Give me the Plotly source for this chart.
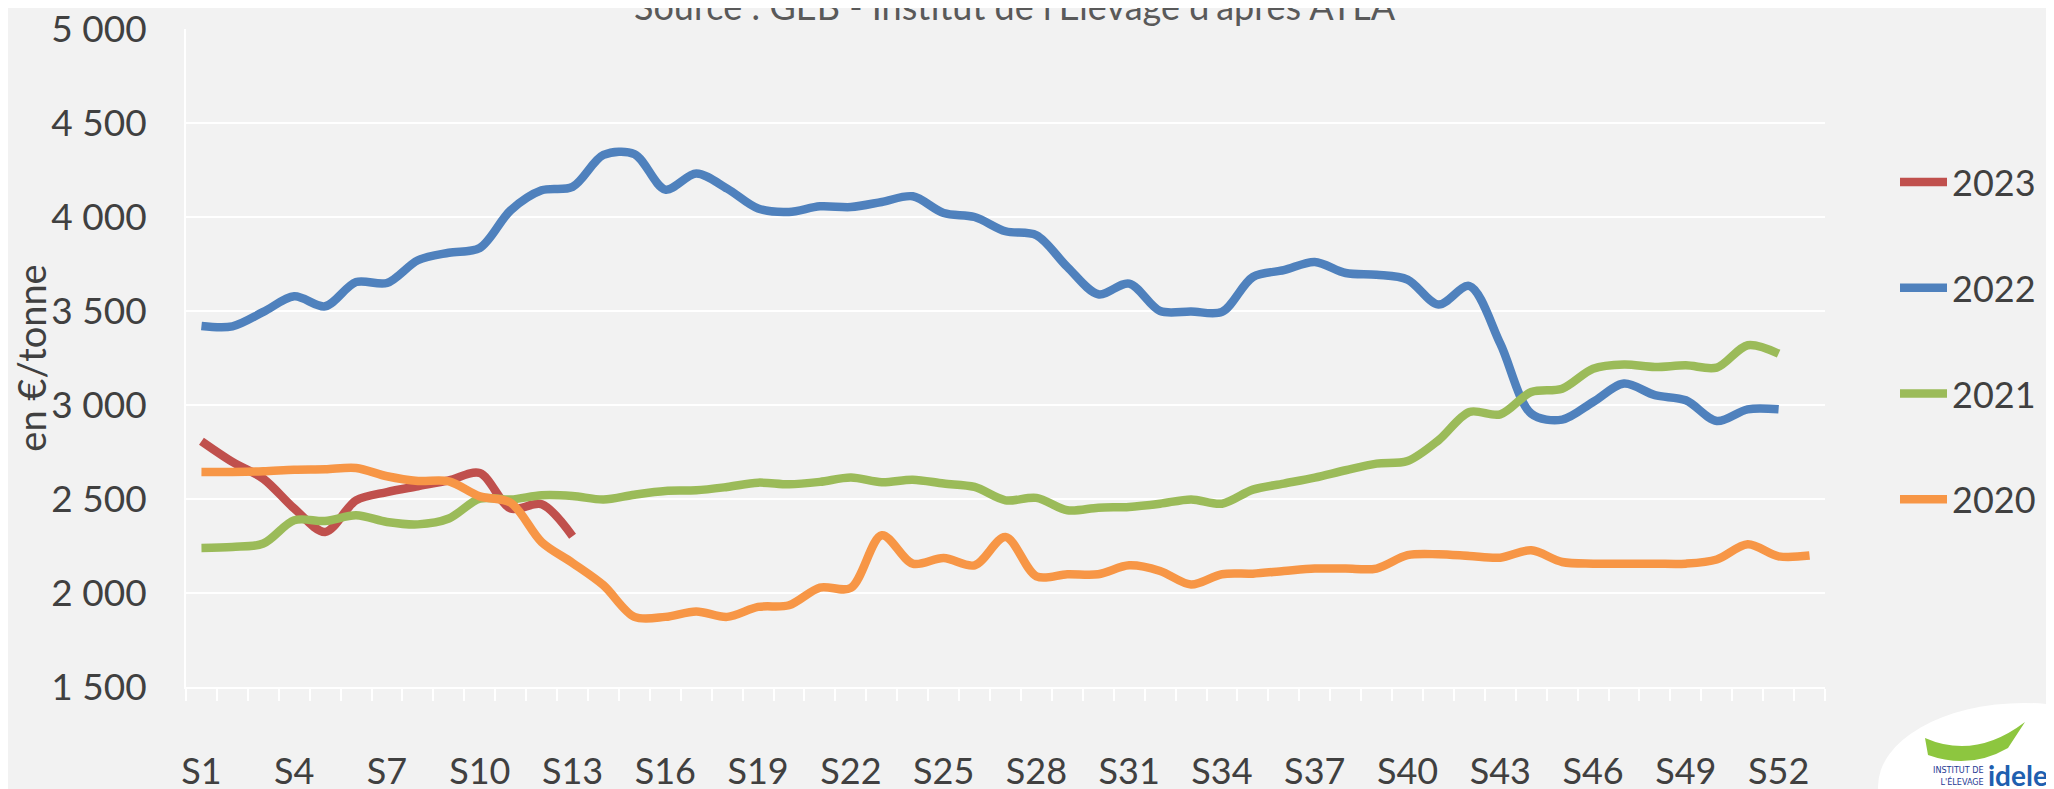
import plotly.graph_objects as go

# ---------------- data ----------------
weeks = list(range(1, 54))
week_labels = [f"S{w}" for w in weeks]
label_weeks = weeks[::3]            # S1, S4, ..., S52
label_texts = [f"S{w}" for w in label_weeks]

series_names = ["2023", "2022", "2021", "2020"]

p2023 = [2807, 2697, 2608, 2449, 2325, 2493, 2537, 2568, 2599, 2638, 2449, 2472, 2302]

p2022 = [3420, 3418, 3495, 3578, 3525, 3654, 3649, 3770, 3810, 3835,
         4036, 4142, 4160, 4330, 4335, 4146, 4231, 4151, 4045, 4027,
         4057, 4053, 4080, 4110, 4021, 4000, 3924, 3903, 3734, 3589,
         3646, 3500, 3498, 3495, 3681, 3717, 3761, 3702, 3693, 3667,
         3534, 3633, 3326, 2954, 2922, 3016, 3114, 3052, 3025, 2915,
         2977, 2977]

p2021 = [2240, 2245, 2263, 2387, 2383, 2413, 2378, 2365, 2396, 2502,
         2497, 2520, 2516, 2497, 2523, 2543, 2546, 2564, 2587, 2578,
         2591, 2614, 2589, 2603, 2582, 2564, 2493, 2506, 2440, 2454,
         2458, 2475, 2498, 2475, 2550, 2582, 2614, 2653, 2688, 2702,
         2812, 2963, 2950, 3069, 3087, 3193, 3215, 3202, 3211, 3199,
         3318, 3273]

p2020 = [2644, 2644, 2647, 2656, 2658, 2665, 2621, 2596, 2594, 2514,
         2480, 2271, 2160, 2041, 1873, 1873, 1902, 1873, 1926, 1935,
         2029, 2027, 2307, 2156, 2186, 2147, 2298, 2089, 2100, 2100,
         2147, 2117, 2045, 2100, 2103, 2117, 2130, 2130, 2130, 2201,
         2206, 2197, 2188, 2227, 2165, 2156, 2156, 2156, 2156, 2178,
         2259, 2195, 2199]

y_ticks = [1500, 2000, 2500, 3000, 3500, 4000, 4500, 5000]

colors = {"2023": "#C0504D", "2022": "#4F81BD", "2021": "#9BBB59", "2020": "#F79646"}
values = {"2023": p2023, "2022": p2022, "2021": p2021, "2020": p2020}

# ---------------- layout geometry (screen pixels; page body has an 8px margin) ----------------
W, H = 2054, 789
OFF = 8
SL, SR, ST, SB = 186, 1825, 29, 687          # plot area on screen
ML, MT = SL - OFF, ST - OFF
MR, MB = W - (SR - OFF), H - (SB - OFF)
PW, PH = SR - SL, SB - ST
BG = "#F2F2F2"
FONT = "Century Gothic, Lato, sans-serif"
TXT = "#404040"


def px_x(sx):
    return (sx - SL) / PW


def px_y(sy):
    return (SB - sy) / PH


fig = go.Figure()
for name in series_names:
    vals = values[name]
    fig.add_trace(go.Scatter(
        x=weeks[:len(vals)], y=vals, name=name, legendgroup=name,
        mode="lines", line=dict(color=colors[name], width=8.5, shape="spline", smoothing=0.9),
    ))

fig.update_layout(
    width=W, height=H,
    margin=dict(l=ML, r=MR, t=MT, b=MB, autoexpand=False),
    paper_bgcolor=BG, plot_bgcolor=BG,
    separators=", ",
    font=dict(family=FONT, color=TXT, size=36),
    showlegend=True,
    legend=dict(
        x=px_x(1895), y=px_y(152), xanchor="left", yanchor="top",
        font=dict(family=FONT, size=36, color=TXT),
        bgcolor="rgba(0,0,0,0)", tracegroupgap=56, itemwidth=47,
    ),
    xaxis=dict(
        range=[0.5, 53.5], automargin=False,
        tickmode="array", tickvals=label_weeks, ticktext=label_texts,
        ticks="outside", ticklen=52, tickcolor="rgba(0,0,0,0)",
        ticklabeloverflow="allow",
        tickfont=dict(family=FONT, size=36, color=TXT),
        showgrid=False, zeroline=False,
        showline=True, linecolor="#FFFFFF", linewidth=2,
        minor=dict(tick0=0.5, dtick=1, ticks="outside", ticklen=12,
                   tickcolor="#FFFFFF", tickwidth=2, showgrid=False),
    ),
    yaxis=dict(
        range=[1500, 5000], automargin=False,
        tickmode="array", tickvals=y_ticks, tickformat=",d",
        ticks="outside", ticklen=30, tickcolor="rgba(0,0,0,0)",
        ticklabeloverflow="allow",
        tickfont=dict(family=FONT, size=37, color=TXT),
        showgrid=True, gridcolor="#FFFFFF", gridwidth=2,
        zeroline=False,
        showline=True, linecolor="#FFFFFF", linewidth=2,
        title=dict(text="en €/tonne", font=dict(family=FONT, size=38, color=TXT), standoff=2),
    ),
)

# title (partly cut off at the top, as in the reference)
fig.add_annotation(
    text="Source : GEB - Institut de l'Elevage d'après ATLA",
    xref="paper", yref="paper", x=px_x(1015), y=px_y(30),
    xanchor="center", yanchor="bottom", showarrow=False,
    font=dict(family=FONT, size=36, color="#595959"),
)

# logo (decorative) at bottom-right
fig.add_shape(type="circle", xref="paper", yref="paper",
              x0=px_x(1878), x1=px_x(2170), y0=px_y(870), y1=px_y(703),
              fillcolor="#FFFFFF", line=dict(width=0), layer="below")
fig.add_shape(type="path", xref="paper", yref="paper",
              path=f"M {px_x(1925)} {px_y(738)} Q {px_x(1975)} {px_y(760)} {px_x(2025)} {px_y(722)} "
                   f"L {px_x(2008)} {px_y(748)} Q {px_x(1970)} {px_y(770)} {px_x(1928)} {px_y(755)} Z",
              fillcolor="#8DC63F", line=dict(width=0))
fig.add_annotation(text="INSTITUT DE<br>L'ÉLEVAGE", xref="paper", yref="paper",
                   x=px_x(1958), y=px_y(776), xanchor="center", yanchor="middle",
                   showarrow=False, align="right",
                   font=dict(family="DejaVu Sans Condensed, sans-serif", size=9, color="#1F3A93"))
fig.add_annotation(text="<b>idele</b>", xref="paper", yref="paper",
                   x=px_x(2018), y=px_y(775), xanchor="center", yanchor="middle",
                   showarrow=False, font=dict(family="Lato, sans-serif", size=28, color="#1F5FAF"))

fig.write_html("out.html")
